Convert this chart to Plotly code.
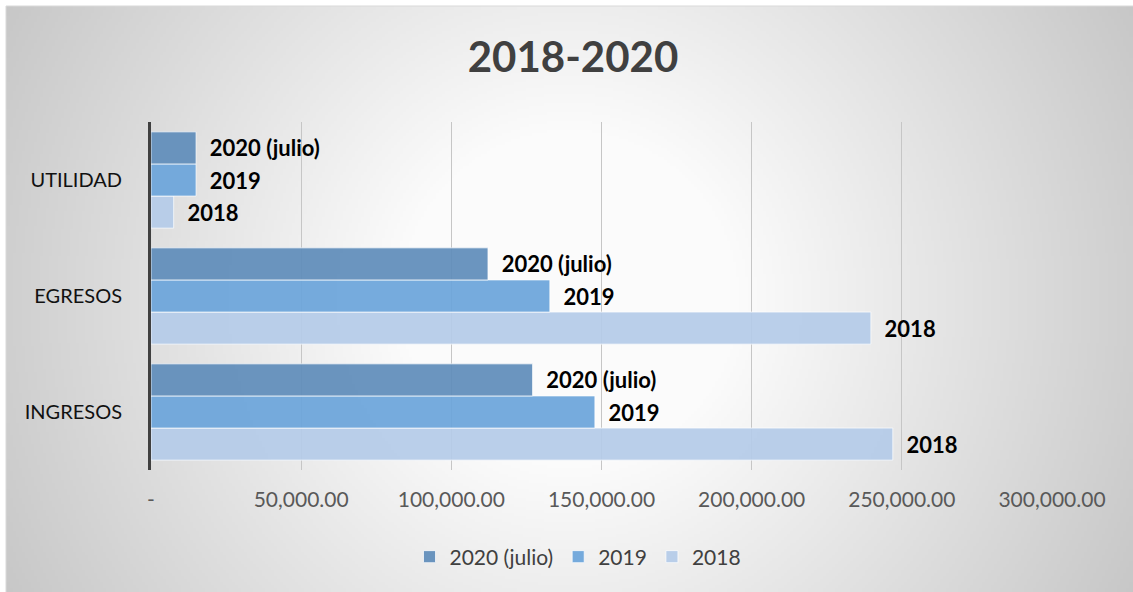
import base64, struct, zlib, math
import plotly.graph_objects as go

categories = ["INGRESOS", "EGRESOS", "UTILIDAD"]
series_names = ["2018", "2019", "2020 (julio)"]
values_2018 = [247000, 239700, 7550]
values_2019 = [147800, 132800, 15000]
values_2020 = [127050, 112200, 15000]
series_values = [values_2018, values_2019, values_2020]
series_colors = ["rgba(180,203,232,0.92)", "rgba(106,164,218,0.92)", "rgba(94,140,186,0.92)"]
tick_vals = [0, 50000, 100000, 150000, 200000, 250000, 300000]
tick_text = ["-", "50,000.00", "100,000.00", "150,000.00", "200,000.00", "250,000.00", "300,000.00"]

W, H = 1133, 592
L, R, T, B = 151, 81, 122, 122
pw, ph = W - L - R, H - T - B

# radial gradient background as PNG
def make_png(w, h, scale):
    rows = []
    cx, cy = 570, 300
    for j in range(h):
        row = bytearray([0])
        py = 6 + (j + 0.5) * scale
        for i in range(w):
            px = 6 + (i + 0.5) * scale
            d = math.hypot(px - cx, py - cy)
            v = 270 - 0.111 * d
            v = max(196, min(251, v))
            row.append(int(v))
        rows.append(bytes(row))
    raw = b"".join(rows)
    def chunk(t, data):
        c = struct.pack(">I", len(data)) + t + data
        return c + struct.pack(">I", zlib.crc32(t + data) & 0xffffffff)
    png = b"\x89PNG\r\n\x1a\n" + chunk(b"IHDR", struct.pack(">IIBBBBB", w, h, 8, 0, 0, 0, 0))
    png += chunk(b"IDAT", zlib.compress(raw, 9)) + chunk(b"IEND", b"")
    return "data:image/png;base64," + base64.b64encode(png).decode()

scale = 3
bg = make_png(int((W - 6) / scale) + 1, int((H - 6) / scale) + 1, scale)

fig = go.Figure()
for name, vals, col in zip(series_names, series_values, series_colors):
    fig.add_trace(go.Bar(
        y=categories, x=vals, name=name, orientation="h",
        marker=dict(color=col, line=dict(color="rgba(255,255,255,0.7)", width=1)),
        text=["\u00a0\u00a0" + name] * len(vals), textposition="outside",
        textfont=dict(family="Lato", size=22, color="#000000", weight="bold"),
        constraintext="none", cliponaxis=False,
    ))

def px2paper_x(px):
    return (px - L) / pw

def px2paper_y(py):
    return (H - B - py) / ph

fig.update_layout(
    width=W, height=H,
    margin=dict(l=L, r=R, t=T, b=B),
    paper_bgcolor="white", plot_bgcolor="rgba(0,0,0,0)",
    barmode="group", bargap=0.17, bargroupgap=0,
    title=dict(text="<b>2018-2020</b>", x=573 / W, xref="container", xanchor="center",
               y=1 - 57 / H, yref="container", yanchor="middle",
               font=dict(family="Lato", size=42, color="#404040")),
    legend=dict(orientation="h", x=578 / W, xref="container", xanchor="center",
                y=1 - 557 / H, yref="container", yanchor="middle", traceorder="reversed",
                itemwidth=30,
                font=dict(family="Lato", size=21, color="#404040"), bgcolor="rgba(0,0,0,0)"),
    xaxis=dict(range=[0, 300000], tickvals=tick_vals, ticktext=tick_text,
               showgrid=True, gridcolor="#c6c6c6", gridwidth=1, zeroline=False, showline=False,
               tickfont=dict(family="Lato", size=21, color="#595959"), ticklabelstandoff=15),
    yaxis=dict(showline=True, linecolor="#404040", linewidth=3, showgrid=False,
               tickfont=dict(family="Lato", size=20, color="#111111"), ticklabelstandoff=22),
    images=[dict(source=bg, xref="paper", yref="paper",
                 x=px2paper_x(6), y=px2paper_y(6),
                 sizex=(W - 6) / pw, sizey=(H - 6) / ph,
                 xanchor="left", yanchor="top", sizing="stretch", layer="below")],
    shapes=[dict(type="rect", xref="paper", yref="paper",
                 x0=px2paper_x(6), x1=px2paper_x(W + 2), y0=px2paper_y(H + 2), y1=px2paper_y(6),
                 line=dict(color="#d9d9d9", width=1), layer="below")],
)

fig.write_html("out.html")
